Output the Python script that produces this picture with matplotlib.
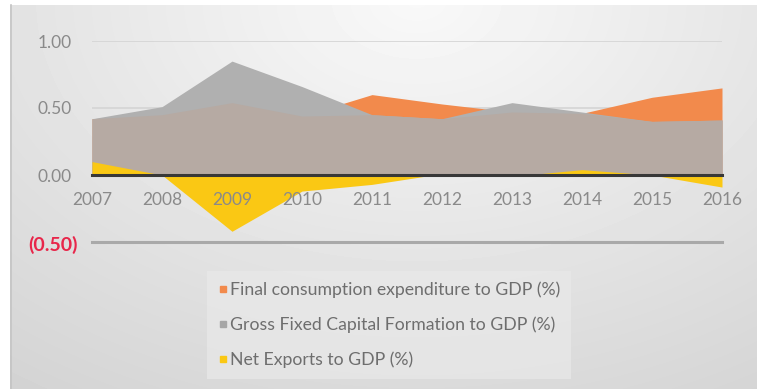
import numpy as np
import matplotlib.pyplot as plt
from matplotlib.lines import Line2D
from matplotlib.transforms import ScaledTranslation

# Ratios to GDP, 2007-2016
years = np.arange(2007, 2017)
consumption = np.array([0.42, 0.45, 0.54, 0.44, 0.60, 0.53, 0.47, 0.46, 0.58, 0.65])
gfcf = np.array([0.42, 0.51, 0.85, 0.66, 0.45, 0.42, 0.54, 0.47, 0.40, 0.41])
net_exports = np.array([0.10, 0.00, -0.42, -0.12, -0.07, 0.01, -0.01, 0.04, 0.00, -0.09])

series_names = ["Final consumption expenditure to GDP (%)",
                "Gross Fixed Capital Formation to GDP (%)",
                "Net Exports to GDP (%)"]
ytick_vals = [-0.5, 0.0, 0.5, 1.0]
ytick_text = ["(0.50)", "0.00", "0.50", "1.00"]

ORANGE = '#f28a4c'
GREY = '#b0b0b0'
TAUPE = '#b6aaa3'
YELLOW = '#fac814'

plt.rcParams['font.family'] = ['Lato', 'DejaVu Sans']

W, H = 757, 389
fig = plt.figure(figsize=(W / 100, H / 100), dpi=100)

# soft grey backdrop, brighter towards the top middle
bg = fig.add_axes([0, 0, 1, 1])
yy, xx = np.mgrid[0:H, 0:W]
u = xx / W
v = yy / H
d = np.sqrt(((u - 0.55) / 0.75) ** 2 + v ** 2)
shade = np.clip(0.975 - 0.12 * d, 0, 1)
shade[:5, :] = 1.0
shade[:, :10] = 1.0
bg.imshow(shade, cmap='gray', vmin=0, vmax=1, aspect='auto',
          extent=[0, W, H, 0], interpolation='bilinear')
bg.plot([10.5, 10.5], [5, H], color='#c4c4c4', lw=1.2)
bg.set_xlim(0, W)
bg.set_ylim(H, 0)
bg.axis('off')

ax = fig.add_axes([92 / W, 1 - 242 / H, 630 / W, 201 / H])
ax.patch.set_alpha(0)

for y in (0.5, 1.0):
    ax.axhline(y, color='#d6d6d6', lw=1.3, zorder=0)
ax.axhline(-0.5, color='#a9a9a9', lw=2.2, zorder=0, clip_on=False)

ax.fill_between(years, 0, consumption, color=ORANGE, lw=0, zorder=1)
ax.fill_between(years, 0, gfcf, color=GREY, lw=0, zorder=1)
ax.fill_between(years, 0, np.minimum(consumption, gfcf), color=TAUPE, lw=0, zorder=1)
ax.fill_between(years, 0, net_exports, color=YELLOW, lw=0, zorder=1)

ax.set_xlim(2007, 2016)
ax.set_ylim(-0.5, 1.0)

for side in ('top', 'right', 'left'):
    ax.spines[side].set_visible(False)
ax.spines['bottom'].set_position(('data', 0))
ax.spines['bottom'].set_color('#383838')
ax.spines['bottom'].set_linewidth(2.2)
ax.spines['bottom'].set_zorder(3)

ax.set_xticks(years)
ax.set_xticklabels([str(yr) for yr in years])
ax.tick_params(axis='x', length=0, pad=12.5, labelsize=12.5, labelcolor='#8a8a8a')

ax.set_yticks(ytick_vals)
ax.set_yticklabels(ytick_text)
ax.tick_params(axis='y', length=0, pad=14.5, labelsize=12.5, labelcolor='#8a8a8a')
neg = ax.get_yticklabels()[0]
neg.set_color('#e8264a')
neg.set_fontweight('bold')
neg.set_fontsize(14)
neg.set_transform(neg.get_transform() + ScaledTranslation(0.06, -0.01, fig.dpi_scale_trans))

handles = [Line2D([], [], marker='s', ls='', color=c, markersize=5)
           for c in (ORANGE, '#a6a6a6', YELLOW)]
leg = fig.legend(handles, series_names, loc='upper left',
                 bbox_to_anchor=(198 / W, 1 - 262 / H),
                 frameon=True, facecolor='#e9e9e9', edgecolor='none',
                 fancybox=False, framealpha=0.7, fontsize=12.7,
                 labelcolor='#6e6e6e', handlelength=0.6, handletextpad=0.1,
                 labelspacing=1.05, borderpad=0.6)

fig.savefig('out.png', dpi=100)
